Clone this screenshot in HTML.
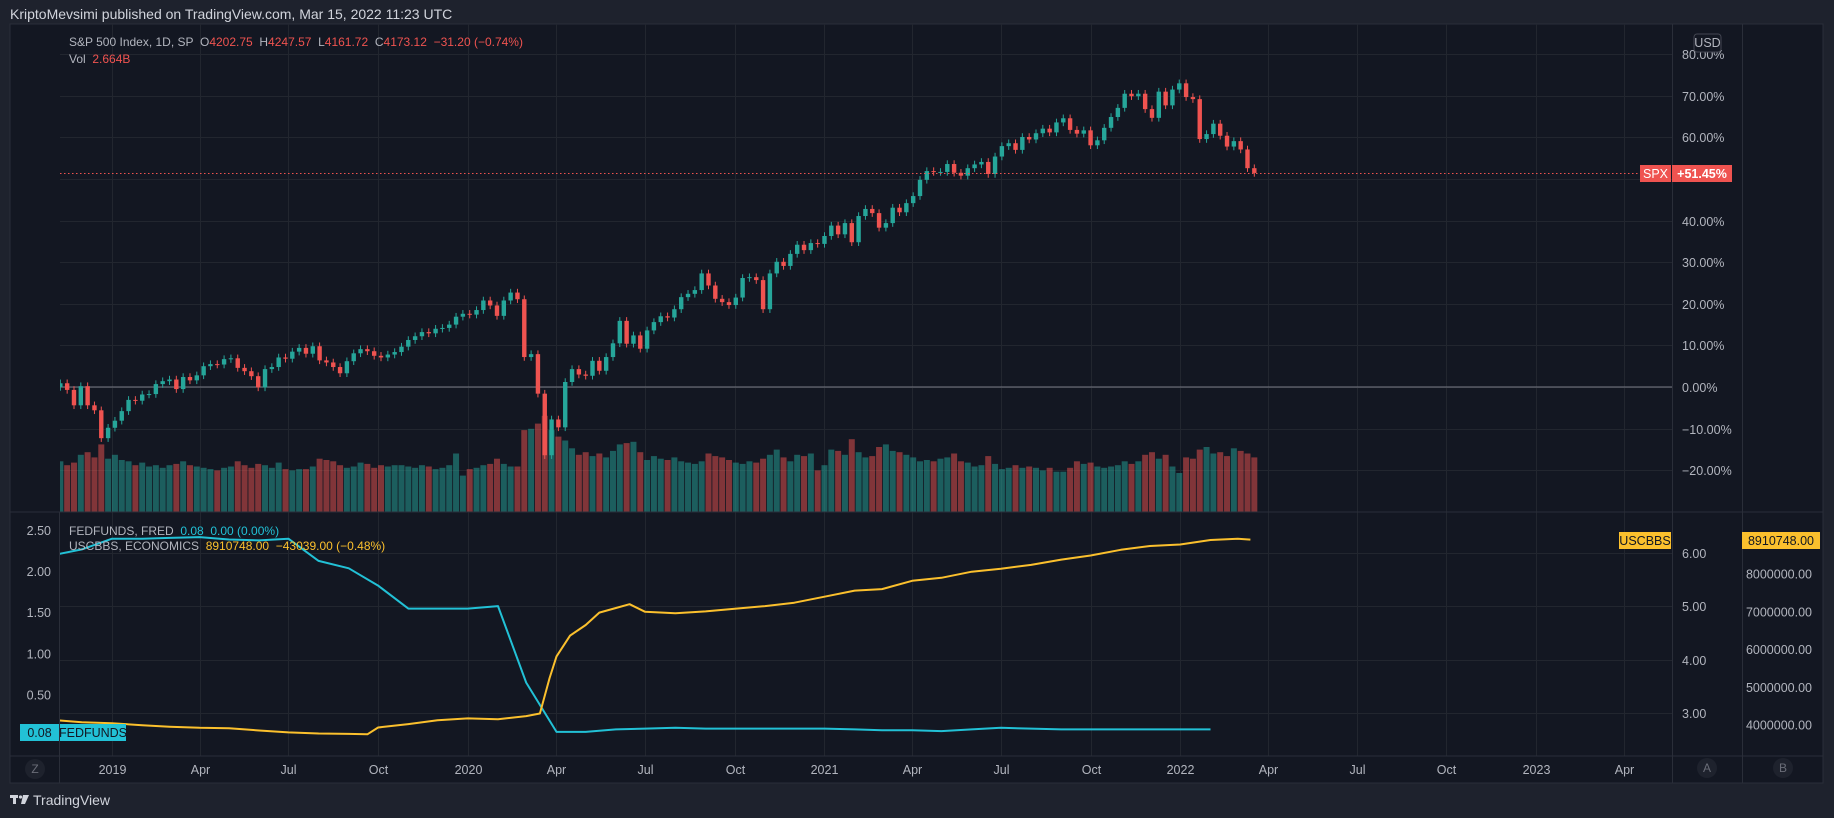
<!DOCTYPE html>
<html><head><meta charset="utf-8">
<style>
html,body{margin:0;padding:0;background:#1e222d;}
svg{display:block;font-family:"Liberation Sans",sans-serif;}
.pre{white-space:pre;}
</style></head>
<body>
<svg id="c" width="1834" height="818" viewBox="0 0 1834 818" xmlns="http://www.w3.org/2000/svg">
<rect x="0" y="0" width="1834" height="818" fill="#1e222d"/>
<text x="10" y="19" font-size="14" fill="#d1d4dc">KriptoMevsimi published on TradingView.com, Mar 15, 2022 11:23 UTC</text>
<rect x="10" y="24" width="1813" height="759" fill="#131722" stroke="#2a2e39"/>
<defs>
<clipPath id="clipMain"><rect x="60" y="24" width="1612" height="488"/></clipPath>
<clipPath id="clipSub"><rect x="60" y="512" width="1612" height="244"/></clipPath>
</defs>
<g id="grid"></g>
<g id="volume" clip-path="url(#clipMain)"></g>
<line x1="60" x2="1672" y1="387" y2="387" stroke="#787b86" stroke-width="1"/>
<g id="candles" clip-path="url(#clipMain)"></g>
<g id="sub" clip-path="url(#clipSub)"></g>
<g id="axes">
<line x1="10" x2="1823" y1="512" y2="512" stroke="#2a2e39"/>
<line x1="10" x2="1823" y1="756" y2="756" stroke="#2a2e39"/>
<line x1="59.5" x2="59.5" y1="512" y2="783" stroke="#2a2e39"/>
<line x1="1672.5" x2="1672.5" y1="24" y2="783" stroke="#2a2e39"/>
<line x1="1742.5" x2="1742.5" y1="24" y2="783" stroke="#2a2e39"/>
</g>
<g id="labels" font-size="12.5" fill="#b2b5be"></g>
<g font-size="12">
<text class="pre" x="69" y="46" fill="#b2b5be">S&amp;P 500 Index, 1D, SP  O<tspan fill="#ef5350">4202.75</tspan>  H<tspan fill="#ef5350">4247.57</tspan>  L<tspan fill="#ef5350">4161.72</tspan>  C<tspan fill="#ef5350">4173.12</tspan>  <tspan fill="#ef5350">−31.20 (−0.74%)</tspan></text>
<text class="pre" x="69" y="63" fill="#b2b5be">Vol  <tspan fill="#ef5350">2.664B</tspan></text>
<text class="pre" x="69" y="535" fill="#b2b5be">FEDFUNDS, FRED  <tspan fill="#22c1d6">0.08  0.00 (0.00%)</tspan></text>
<text class="pre" x="69" y="550" fill="#b2b5be">USCBBS, ECONOMICS  <tspan fill="#fbc02d">8910748.00  −43039.00 (−0.48%)</tspan></text>
</g>
<g font-size="12.5">
<line x1="60" x2="1640" y1="173.5" y2="173.5" stroke="#ef5350" stroke-dasharray="1.5,2.5"/>
<rect x="1640" y="165" width="31" height="17" fill="#ef5350"/>
<text x="1655.5" y="178" fill="#fff" text-anchor="middle">SPX</text>
<rect x="1672" y="165" width="60" height="17" fill="#ef5350"/>
<text x="1702" y="178" fill="#fff" text-anchor="middle" font-weight="bold">+51.45%</text>
<rect x="1694" y="34" width="27" height="18" rx="3" fill="#131722" stroke="#434651"/>
<text x="1707.5" y="47" fill="#b2b5be" text-anchor="middle">USD</text>
<rect x="1619" y="532" width="52" height="17" fill="#fbc02d"/>
<text x="1645" y="545" fill="#131722" text-anchor="middle">USCBBS</text>
<rect x="1742" y="532" width="78" height="17" fill="#fbc02d"/>
<text x="1781" y="545" fill="#131722" text-anchor="middle">8910748.00</text>
<rect x="20" y="724" width="39" height="17" fill="#22c1d6"/>
<text x="39.5" y="737" fill="#131722" text-anchor="middle">0.08</text>
<rect x="60" y="724" width="66" height="17" fill="#22c1d6"/>
<text x="93" y="737" fill="#131722" text-anchor="middle">FEDFUNDS</text>
</g>
<g font-size="12">
<circle cx="35" cy="769" r="10" fill="#1e222d"/>
<text x="35" y="773" fill="#6a6d78" text-anchor="middle">Z</text>
<circle cx="1707" cy="768" r="10" fill="#1e222d"/>
<text x="1707" y="772" fill="#6a6d78" text-anchor="middle">A</text>
<circle cx="1783" cy="768" r="10" fill="#1e222d"/>
<text x="1783" y="772" fill="#6a6d78" text-anchor="middle">B</text>
</g>
<g>
<rect x="10" y="795" width="8" height="3" fill="#d1d4dc"/>
<rect x="13" y="795" width="3" height="9" fill="#d1d4dc"/>
<circle cx="20.5" cy="797" r="1.6" fill="#d1d4dc"/>
<polygon points="23,795 29,795 25,804 21,804" fill="#d1d4dc"/>
<text x="33" y="805" font-size="14" fill="#d1d4dc">TradingView</text>
</g>
</svg>
<script>
// ---- data ----
const spxStart = "2018-11-09";
const spxClose = [0.9,-0.7,-4.4,0.2,-4.4,-5.6,-12.3,-9.8,
-8.1,-5.8,-3.1,-3.3,-1.8,-1.7,0.7,1.4,1.8,-0.5,2.4,1.6,2.8,5.0,5.5,5.4,6.7,6.9,4.6,3.8,2.6,-0.1,4.3,4.8,7.1,6.8,8.5,9.4,8.0,9.8,6.4,5.9,4.8,3.3,6.2,8.1,9.1,8.6,7.5,7.1,7.8,8.4,9.7,11.3,12.2,13.2,12.9,14.0,14.2,15.0,16.9,17.6,
17.4,18.5,20.8,19.6,17.1,20.8,22.7,21.1,7.2,7.9,-1.6,-16.4,-7.8,-9.7,1.2,4.3,3.0,2.7,6.3,3.9,7.2,10.5,15.9,10.4,12.4,9.2,13.6,15.6,17.0,16.7,18.7,21.6,22.4,23.3,27.3,24.4,21.2,20.4,19.7,21.5,26.2,26.4,25.7,18.7,27.3,30.1,29.1,32.0,34.2,32.9,34.6,34.4,36.3,
38.8,36.7,39.4,34.8,41.1,42.8,41.8,38.3,39.4,43.1,42.0,44.2,45.9,49.8,51.9,51.7,51.7,53.6,51.5,50.8,52.6,53.5,54.1,51.2,55.4,57.9,58.6,57.0,60.1,59.5,61.0,62.1,61.2,63.6,64.6,61.8,60.9,61.7,58.1,59.3,62.3,64.9,67.1,70.5,69.9,70.5,66.8,64.7,71.0,67.7,71.5,73.0,
69.7,69.2,59.6,60.8,63.3,60.4,57.8,59.1,57.1,52.6,51.45];
const spxVolume = [3.9,3.6,3.8,4.4,4.6,4.2,5.2,4.1,
4.4,4.0,3.9,3.6,3.8,3.5,3.6,3.4,3.6,3.7,3.9,3.6,3.5,3.4,3.3,3.2,3.4,3.5,3.9,3.6,3.4,3.7,3.6,3.4,3.8,3.3,3.2,3.3,3.3,3.5,4.1,4.0,3.9,3.6,3.4,3.5,3.8,3.7,3.4,3.6,3.5,3.6,3.6,3.5,3.4,3.6,3.5,3.3,3.4,3.6,4.5,2.8,
3.3,3.4,3.6,3.7,4.1,3.7,3.5,3.5,6.3,6.4,6.8,7.4,6.3,5.8,5.5,4.9,4.4,4.6,4.3,4.5,4.2,4.7,5.2,5.3,5.4,4.6,4.0,4.3,4.1,4.0,4.2,3.9,3.8,3.7,3.9,4.5,4.3,4.2,4.0,3.8,3.7,3.9,3.8,4.1,4.4,4.8,4.2,3.9,4.4,4.3,4.5,3.2,3.6,
4.8,4.7,4.4,5.6,4.6,4.2,4.3,5.0,5.2,4.7,4.6,4.4,4.2,3.9,4.0,3.9,4.1,4.2,4.5,3.9,3.8,3.5,3.6,4.3,3.7,3.3,3.4,3.6,3.4,3.5,3.4,3.2,3.4,3.1,3.1,3.4,3.9,3.7,3.8,3.5,3.4,3.5,3.6,3.9,3.7,3.9,4.4,4.6,4.1,4.4,3.5,3.0,
4.2,4.1,4.8,5.0,4.5,4.6,4.3,4.9,4.7,4.5,4.2];
const fedMonthStart = "2018-11-01";
const fedFunds = [2.20,2.27,
2.40,2.40,2.41,2.42,2.39,2.38,2.40,2.13,2.04,1.83,1.55,1.55,
1.55,1.58,0.65,0.05,0.05,0.08,0.09,0.10,0.09,0.09,0.09,0.09,
0.09,0.08,0.07,0.07,0.06,0.08,0.10,0.09,0.08,0.08,0.08,0.08,
0.08,0.08];
const balDates = ["2018-11-01","2018-12-01","2019-01-01","2019-02-01","2019-03-01","2019-04-01","2019-05-01","2019-06-01","2019-07-01","2019-08-01","2019-09-01","2019-09-20","2019-10-01","2019-11-01","2019-12-01","2020-01-01","2020-02-01","2020-03-01","2020-03-15","2020-03-25","2020-04-01","2020-04-15","2020-05-01","2020-05-15","2020-06-01","2020-06-15","2020-07-01","2020-08-01","2020-09-01","2020-10-01","2020-11-01","2020-12-01","2021-01-01","2021-02-01","2021-03-01","2021-04-01","2021-05-01","2021-06-01","2021-07-01","2021-08-01","2021-09-01","2021-10-01","2021-11-01","2021-12-01","2022-01-01","2022-02-01","2022-03-01","2022-03-14"];
const balSheet = [4140,4080,4050,4000,3960,3930,3920,3860,3810,3780,3770,3760,3940,4030,4130,4180,4160,4240,4310,5250,5820,6370,6650,6980,7100,7200,7000,6960,7010,7080,7150,7240,7400,7560,7600,7820,7900,8060,8140,8240,8380,8490,8640,8740,8780,8900,8930,8910];
const pctTicks = [80,70,60,50,40,30,20,10,0,-10,-20];
const fedTicks = ["2.50","2.00","1.50","1.00","0.50","0.00"];
const aTicks = ["6.00","5.00","4.00","3.00"];
const bTicks = ["8000000.00","7000000.00","6000000.00","5000000.00","4000000.00"];
const timeTicks = [["2019-01-01","2019"],["2019-04-01","Apr"],["2019-07-01","Jul"],["2019-10-01","Oct"],["2020-01-01","2020"],["2020-04-01","Apr"],["2020-07-01","Jul"],["2020-10-01","Oct"],["2021-01-01","2021"],["2021-04-01","Apr"],["2021-07-01","Jul"],["2021-10-01","Oct"],["2022-01-01","2022"],["2022-04-01","Apr"],["2022-07-01","Jul"],["2022-10-01","Oct"],["2023-01-01","2023"],["2023-04-01","Apr"]];

// ---- scales ----
const NS="http://www.w3.org/2000/svg";
const T0=Date.UTC(2019,0,1);
function ms(s){const p=s.split("-");return Date.UTC(+p[0],+p[1]-1,+p[2]);}
function xOf(t){return 112+(t-T0)/86400000/365.25*356;}
function yMain(p){return 387-p*4.16;}
function yFed(v){return 736-v*82.2;}
function yBal(v){return 574-(v-8000)*0.0378;}
function yVol(v){return 512-v*13;}
function mk(tag,attrs,parent){const e=document.createElementNS(NS,tag);for(const k in attrs)e.setAttribute(k,attrs[k]);parent.appendChild(e);return e;}

const grid=document.getElementById('grid');
const labels=document.getElementById('labels');
timeTicks.forEach(t=>{
  const x=Math.round(xOf(ms(t[0])))+0.5;
  const l=mk('line',{x1:x,x2:x,y1:24,y2:756,stroke:'#22262f'},grid);
  
  
  const tx=mk('text',{x:x,y:774,'text-anchor':'middle'},labels);
  tx.textContent=t[1];
  
  
});
pctTicks.forEach(p=>{
  const y=Math.round(yMain(p))+0.5;
  const l=mk('line',{x1:60,x2:1672,y1:y,y2:y,stroke:'#22262f'},grid);
  
  
  if(p===50) return;
  const tx=mk('text',{x:1682,y:y+4.5},labels);
  tx.textContent=p.toFixed(2).replace('-','−')+'%';
  
  
});
fedTicks.forEach(v=>{
  const y=yFed(+v);
  if(+v===0) return;
  const tx=mk('text',{x:51,y:y+4.5,'text-anchor':'end'},labels);
  tx.textContent=v;
  
  
});
aTicks.forEach(v=>{
  const y=Math.round(553+(6-(+v))*53.3)+0.5;
  const l=mk('line',{x1:60,x2:1672,y1:y,y2:y,stroke:'#22262f'},grid);
  
  
  const tx=mk('text',{x:1682,y:y+4.5},labels);
  tx.textContent=v;
  
  
});
bTicks.forEach(v=>{
  const y=yBal(parseFloat(v)/1000);
  const tx=mk('text',{x:1812,y:y+4.5,'text-anchor':'end'},labels);
  tx.textContent=v;
  
  
});

const cg=document.getElementById('candles'), vg=document.getElementById('volume');
const t0=ms(spxStart);
let prev=0;
spxClose.forEach((c,i)=>{
  const x=xOf(t0+i*7*86400000);
  const o=prev; prev=c;
  const up=c>=o;
  const col=up?'#26a69a':'#ef5350';
  const hi=Math.max(o,c)+0.9, lo=Math.min(o,c)-0.9;
  const w=mk('line',{x1:x,x2:x,y1:yMain(hi),y2:yMain(lo),stroke:col,'stroke-width':1},cg);
  
  
  const yt=yMain(Math.max(o,c)), yb=yMain(Math.min(o,c));
  const b=mk('rect',{x:x-2.2,y:yt,width:4.4,height:Math.max(1,yb-yt),fill:col},cg);
  
  
  const v=spxVolume[i];
  const vb=mk('rect',{x:x-3,y:yVol(v),width:6,height:512-yVol(v),fill:col,opacity:0.5},vg);
  
  
});

const sg=document.getElementById('sub');
const fm=ms(fedMonthStart);
let fd='';
fedFunds.forEach((v,i)=>{
  const d=new Date(fm); d.setUTCMonth(d.getUTCMonth()+i);
  fd+=(i?'L':'M')+xOf(d.getTime()).toFixed(1)+','+yFed(v).toFixed(1);
});
const fp=mk('path',{d:fd,fill:'none',stroke:'#22c1d6','stroke-width':2,'stroke-linejoin':'round'},sg);


let bd='';
balSheet.forEach((v,i)=>{
  bd+=(i?'L':'M')+xOf(ms(balDates[i])).toFixed(1)+','+yBal(v).toFixed(1);
});
const bp=mk('path',{d:bd,fill:'none',stroke:'#fbc02d','stroke-width':2,'stroke-linejoin':'round'},sg);


</script>
</body></html>
